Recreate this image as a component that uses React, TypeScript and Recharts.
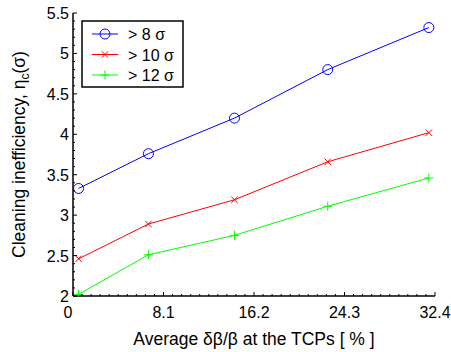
import React from 'react';
import { LineChart, Line, XAxis, YAxis, Legend } from 'recharts';

const X_VALUES = [0.5, 6.75, 14.45, 22.8, 31.85];
const SIGMA8 = [3.33, 3.76, 4.2, 4.8, 5.32];
const SIGMA10 = [2.46, 2.89, 3.19, 3.66, 4.02];
const SIGMA12 = [2.02, 2.51, 2.75, 3.11, 3.46];
const SERIES_NAMES = ['> 8 σ', '> 10 σ', '> 12 σ'];
const X_TICKS = [0, 8.1, 16.2, 24.3, 32.4];
const Y_TICKS = [2, 2.5, 3, 3.5, 4, 4.5, 5, 5.5];
const X_MINOR_STEP = 0.81;
const Y_MINOR_STEP = 0.1;

const data = X_VALUES.map((x, i) => ({ x, s8: SIGMA8[i], s10: SIGMA10[i], s12: SIGMA12[i] }));

const FONT = '"Liberation Sans", Arial, Helvetica, sans-serif';
const COLORS = { s8: '#0000ff', s10: '#ff0000', s12: '#00ff00' };
const KEY_ORDER = ['s8', 's10', 's12'];

const buildTicks = (majors: number[], step: number) => {
  const lo = majors[0];
  const hi = majors[majors.length - 1];
  const n = Math.round((hi - lo) / step);
  const out: number[] = [];
  for (let i = 0; i <= n; i++) out.push(Number((lo + i * step).toFixed(3)));
  return out;
};
const xAllTicks = buildTicks(X_TICKS, X_MINOR_STEP);
const yAllTicks = buildTicks(Y_TICKS, Y_MINOR_STEP);
const isMajor = (v: number, majors: number[]) => majors.some((m) => Math.abs(m - v) < 1e-6);

const MAJOR = 4;
const MINOR = 2;

const makeTick = (side: 'bottom' | 'top' | 'left' | 'right', majors: number[], showLabel: boolean) => (props: any) => {
  const { x, y, payload, index } = props;
  const v = payload.value;
  const major = isMajor(v, majors);
  const len = major ? MAJOR : MINOR;
  let line;
  if (side === 'bottom') line = <line x1={x} y1={y} x2={x} y2={y - len} stroke="#000" strokeWidth={1} />;
  else if (side === 'top') line = <line x1={x} y1={y} x2={x} y2={y + len} stroke="#000" strokeWidth={1} />;
  else if (side === 'left') line = <line x1={x} y1={y} x2={x + len} y2={y} stroke="#000" strokeWidth={1} />;
  else line = <line x1={x} y1={y} x2={x - len} y2={y} stroke="#000" strokeWidth={1} />;
  let label = null;
  if (showLabel && major) {
    if (side === 'bottom') {
      label = (
        <text x={x + (v === 0 ? -5 : 0)} y={y + 22} textAnchor="middle" fontSize={16} fontFamily={FONT} fill="#000">
          {String(v)}
        </text>
      );
    } else if (side === 'left') {
      label = (
        <text x={x - 4} y={y + 6} textAnchor="end" fontSize={16} fontFamily={FONT} fill="#000">
          {String(v)}
        </text>
      );
    }
  }
  return (
    <g key={`t-${side}-${index}`}>
      {line}
      {label}
    </g>
  );
};

const Marker = ({ cx, cy, kind, color }: any) => {
  if (cx == null || cy == null) return null;
  if (kind === 's8') return <circle cx={cx} cy={cy} r={5} fill="none" stroke={color} strokeWidth={1} />;
  if (kind === 's10')
    return (
      <g>
        <line x1={cx - 3.2} y1={cy - 3.2} x2={cx + 3.2} y2={cy + 3.2} stroke={color} strokeWidth={1} />
        <line x1={cx - 3.2} y1={cy + 3.2} x2={cx + 3.2} y2={cy - 3.2} stroke={color} strokeWidth={1} />
      </g>
    );
  return (
    <g>
      <line x1={cx - 4.5} y1={cy} x2={cx + 4.5} y2={cy} stroke={color} strokeWidth={1} />
      <line x1={cx} y1={cy - 4.5} x2={cx} y2={cy + 4.5} stroke={color} strokeWidth={1} />
    </g>
  );
};

const dotFor = (kind: string) => (p: any) => (
  <Marker key={`${kind}-${p.index}`} cx={p.cx} cy={p.cy} kind={kind} color={(COLORS as any)[kind]} />
);

const LegendBox = (props: any) => {
  const payload = [...(props.payload || [])].sort(
    (a: any, b: any) => KEY_ORDER.indexOf(a.dataKey) - KEY_ORDER.indexOf(b.dataKey)
  );
  const w = 101;
  const h = 66;
  return (
    <svg width={w + 2} height={h + 2} style={{ display: 'block' }}>
      <rect x={1} y={1} width={w} height={h} fill="#fff" stroke="#000" strokeWidth={1.5} />
      {payload.map((item: any, i: number) => {
        const cy = 14 + i * 20.5;
        const kind = item.dataKey;
        const color = item.color;
        return (
          <g key={kind}>
            <line x1={11} y1={cy} x2={37} y2={cy} stroke={color} strokeWidth={1} />
            <Marker cx={24} cy={cy} kind={kind} color={color} />
            <text x={47} y={cy + 6} fontSize={16} fontFamily={FONT} fill="#000">
              {item.value}
            </text>
          </g>
        );
      })}
    </svg>
  );
};

const YLabel = (props: any) => {
  const vb = props.viewBox || {};
  const cx = vb.x + 25;
  const cy = vb.y + vb.height / 2;
  return (
    <text
      x={cx}
      y={cy}
      transform={`rotate(-90, ${cx}, ${cy})`}
      textAnchor="middle"
      fontSize={17.5}
      fontFamily={FONT}
      fill="#000"
    >
      Cleaning inefficiency, η
      <tspan fontSize={12} dy={4}>c</tspan>
      <tspan dy={-4}>(σ)</tspan>
    </text>
  );
};

const XLabel = (props: any) => {
  const vb = props.viewBox || {};
  const cx = vb.x + vb.width / 2;
  const cy = vb.y + 49;
  return (
    <text x={cx} y={cy} textAnchor="middle" fontSize={17.5} fontFamily={FONT} fill="#000">
      Average δβ/β at the TCPs [ % ]
    </text>
  );
};

export default function App() {
  return (
    <div style={{ position: 'absolute', left: 0, top: 0, background: '#fff' }}>
      <LineChart width={451} height={352} data={data} margin={{ top: 13, right: 16, bottom: 0, left: 0 }}>
        <XAxis
          dataKey="x"
          type="number"
          domain={[0, 32.4]}
          allowDataOverflow
          ticks={xAllTicks}
          interval={0}
          tickSize={0}
          tickMargin={0}
          height={56}
          axisLine={{ stroke: '#000', strokeWidth: 1.5 }}
          tickLine={false}
          tick={makeTick('bottom', X_TICKS, true)}
          label={<XLabel />}
        />
        <XAxis
          xAxisId="top"
          orientation="top"
          type="number"
          domain={[0, 32.4]}
          allowDataOverflow
          ticks={xAllTicks}
          interval={0}
          tickSize={0}
          tickMargin={0}
          height={0}
          axisLine={{ stroke: '#000', strokeWidth: 1.5 }}
          tickLine={false}
          tick={makeTick('top', X_TICKS, false)}
        />
        <YAxis
          type="number"
          domain={[2, 5.5]}
          allowDataOverflow
          ticks={yAllTicks}
          interval={0}
          tickSize={0}
          tickMargin={0}
          width={73}
          axisLine={{ stroke: '#000', strokeWidth: 1.5 }}
          tickLine={false}
          tick={makeTick('left', Y_TICKS, true)}
          label={<YLabel />}
        />
        <YAxis
          yAxisId="right"
          orientation="right"
          type="number"
          domain={[2, 5.5]}
          allowDataOverflow
          ticks={yAllTicks}
          interval={0}
          tickSize={0}
          tickMargin={0}
          width={0}
          axisLine={{ stroke: '#000', strokeWidth: 1.5 }}
          tickLine={false}
          tick={makeTick('right', Y_TICKS, false)}
        />
        <Legend
          layout="vertical"
          align="center"
          verticalAlign="middle"
          content={<LegendBox />}
          wrapperStyle={{ left: 81, top: 20, width: 'auto', height: 'auto' }}
        />
        <Line dataKey="s8" name={SERIES_NAMES[0]} stroke={COLORS.s8} strokeWidth={1} dot={dotFor('s8')} activeDot={false} isAnimationActive={false} />
        <Line dataKey="s10" name={SERIES_NAMES[1]} stroke={COLORS.s10} strokeWidth={1} dot={dotFor('s10')} activeDot={false} isAnimationActive={false} />
        <Line dataKey="s12" name={SERIES_NAMES[2]} stroke={COLORS.s12} strokeWidth={1} dot={dotFor('s12')} activeDot={false} isAnimationActive={false} />
      </LineChart>
    </div>
  );
}
